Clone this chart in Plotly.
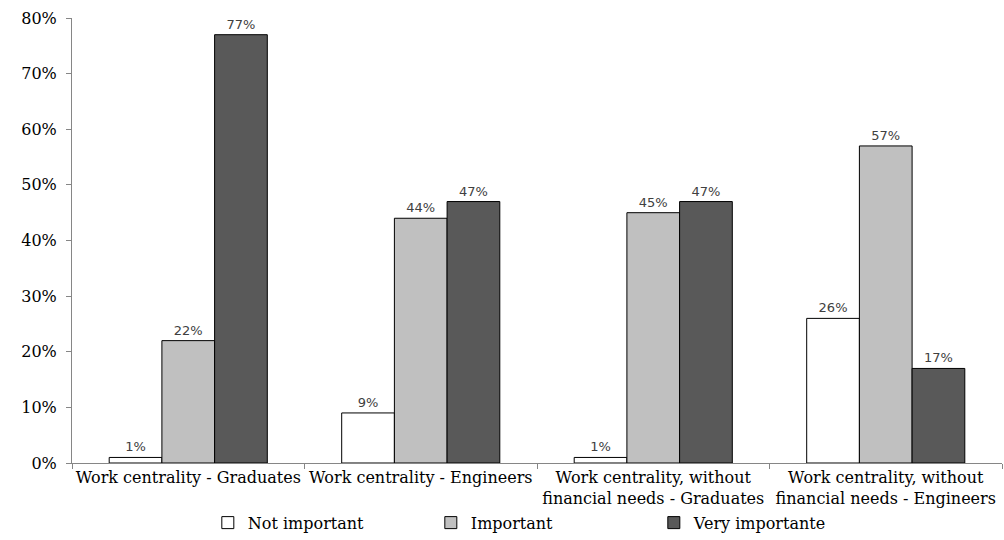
import plotly.graph_objects as go

# Survey categories (x axis)
categories = [
    "Work centrality - Graduates",
    "Work centrality - Engineers",
    "Work centrality, without<br>financial needs - Graduates",
    "Work centrality, without<br>financial needs - Engineers",
]

# Share of respondents per answer (%)
not_important = [1, 9, 1, 26]
important = [22, 44, 45, 57]
very_important = [77, 47, 47, 17]

series_names = ["Not important", "Important", "Very importante"]
series_colors = ["#FFFFFF", "#C0C0C0", "#595959"]

serif = "DejaVu Serif"
sans = "DejaVu Sans"

fig = go.Figure()
for name, vals, color in zip(series_names,
                             [not_important, important, very_important],
                             series_colors):
    fig.add_trace(go.Bar(
        name=name,
        x=categories,
        y=vals,
        marker=dict(color=color, line=dict(color="#000000", width=1)),
        text=[f"{v}%" for v in vals],
        textposition="outside",
        textangle=0,
        textfont=dict(family=sans, size=13, color="#404040"),
        cliponaxis=False,
    ))

fig.update_layout(
    width=1004,
    height=540,
    paper_bgcolor="white",
    plot_bgcolor="white",
    barmode="group",
    bargap=0.32,
    bargroupgap=0,
    margin=dict(l=72, r=2, t=18, b=77, autoexpand=False),
    font=dict(family=serif, size=15, color="#000000"),
    showlegend=True,
    legend=dict(
        orientation="h",
        xref="container", x=0.207, xanchor="left",
        yref="container", y=0.032, yanchor="middle",
        entrywidth=178, entrywidthmode="pixels",
        font=dict(family=serif, size=16, color="#000000"),
        itemwidth=30,
        traceorder="normal",
    ),
    annotations=[dict(
        text="<b>Meaning of work centrality for Graduates and Engineers (%)</b>",
        xref="paper", yref="paper",
        x=0.52, xanchor="center",
        y=1.035, yanchor="bottom",
        showarrow=False,
        font=dict(family="Liberation Serif", size=20, color="#000000"),
    )],
)

fig.update_xaxes(
    type="category",
    automargin=False,
    tickangle=0,
    showline=True, linecolor="#868686", linewidth=1,
    ticks="outside", tickson="boundaries", ticklen=5, tickcolor="#868686",
    showgrid=False,
    tickfont=dict(family=serif, size=16, color="#000000"),
)

fig.update_yaxes(
    automargin=False,
    range=[0, 80], dtick=10, ticksuffix="%",
    showline=True, linecolor="#868686", linewidth=1,
    ticks="outside", ticklen=5, tickcolor="#868686",
    showgrid=False, zeroline=False,
    ticklabelstandoff=6,
    tickfont=dict(family=serif, size=16, color="#000000"),
)

fig.write_html("out.html")
